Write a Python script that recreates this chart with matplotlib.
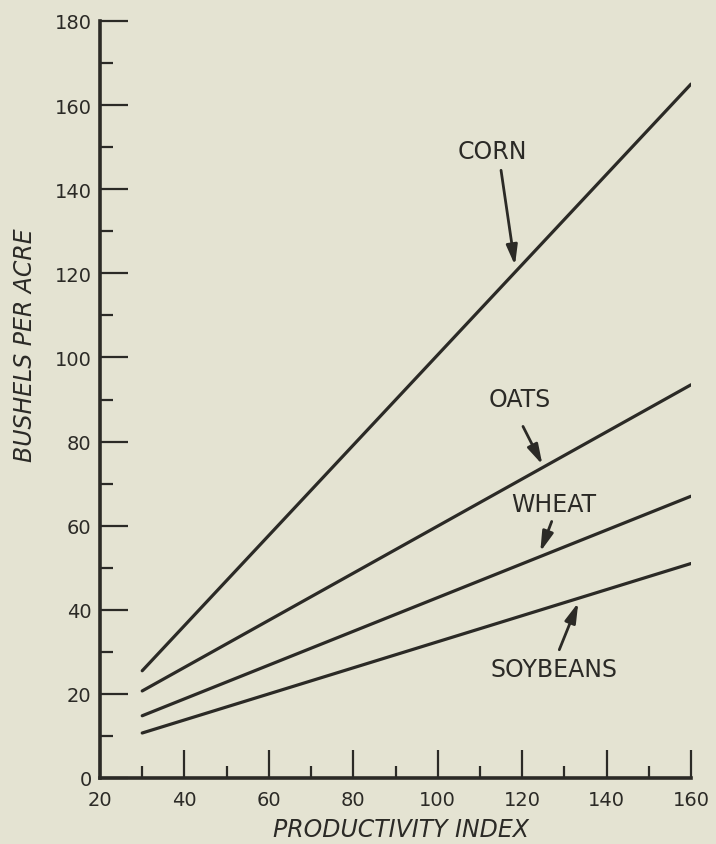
import matplotlib
matplotlib.use("Agg")
import matplotlib.pyplot as plt
from matplotlib.ticker import MultipleLocator

# Data
productivity = [30, 160]
corn = [25.5, 165]
oats = [20.7, 93.5]
wheat = [14.8, 67]
soybeans = [10.7, 51]

series = [("CORN", corn), ("OATS", oats), ("WHEAT", wheat), ("SOYBEANS", soybeans)]

# label text position, arrow tail, arrow tip (data coords)
labels = {
    "CORN": ((112.9, 149.0), (115.0, 144.5), (118.3, 121.9)),
    "OATS": ((119.5, 90.2), (120.2, 83.6), (124.8, 74.5)),
    "WHEAT": ((127.6, 65.2), (127.0, 61.0), (124.3, 53.8)),
    "SOYBEANS": ((127.6, 26.0), (128.8, 30.5), (133.3, 41.7)),
}

xticks = [20, 40, 60, 80, 100, 120, 140, 160]
yticks = [0, 20, 40, 60, 80, 100, 120, 140, 160, 180]

bg = "#e4e3d2"
ink = "#2b2a26"

fig = plt.figure(figsize=(7.16, 8.45), dpi=100, facecolor=bg)
ax = fig.add_axes([100/716, 1-779/845, 591/716, 757/845])
ax.set_facecolor(bg)

for name, vals in series:
    ax.plot(productivity, vals, color=ink, lw=2.3, solid_capstyle="round")

for name, (tpos, tail, tip) in labels.items():
    ax.text(tpos[0], tpos[1], name, ha="center", va="center", fontsize=17, color=ink)
    ax.annotate("", xy=tip, xytext=tail,
                arrowprops=dict(arrowstyle="-|>,head_length=1.0,head_width=0.28",
                                lw=2.0, color=ink, mutation_scale=12, shrinkA=0, shrinkB=0))

ax.set_xlim(20, 160)
ax.set_ylim(0, 180)
ax.set_xticks(xticks)
ax.set_yticks(yticks)
ax.xaxis.set_minor_locator(MultipleLocator(10))
ax.yaxis.set_minor_locator(MultipleLocator(10))
ax.tick_params(which="major", direction="in", length=20, width=1.6, color=ink,
               labelsize=14, labelcolor=ink, pad=6)
ax.tick_params(which="minor", direction="in", length=9, width=1.6, color=ink)
ax.tick_params(axis="x", which="major", pad=9)

for s in ["top", "right"]:
    ax.spines[s].set_visible(False)
for s in ["left", "bottom"]:
    ax.spines[s].set_linewidth(2.6)
    ax.spines[s].set_color(ink)

ax.text((401-100)/591, -(830-779)/757, "PRODUCTIVITY INDEX", transform=ax.transAxes,
        ha="center", va="center", fontsize=17, style="italic", color=ink)
ax.text((25-100)/591, (779-345)/757, "BUSHELS PER ACRE", transform=ax.transAxes,
        ha="center", va="center", fontsize=17, style="italic", rotation=90, color=ink)

fig.savefig("out.png", dpi=100, facecolor=bg)
